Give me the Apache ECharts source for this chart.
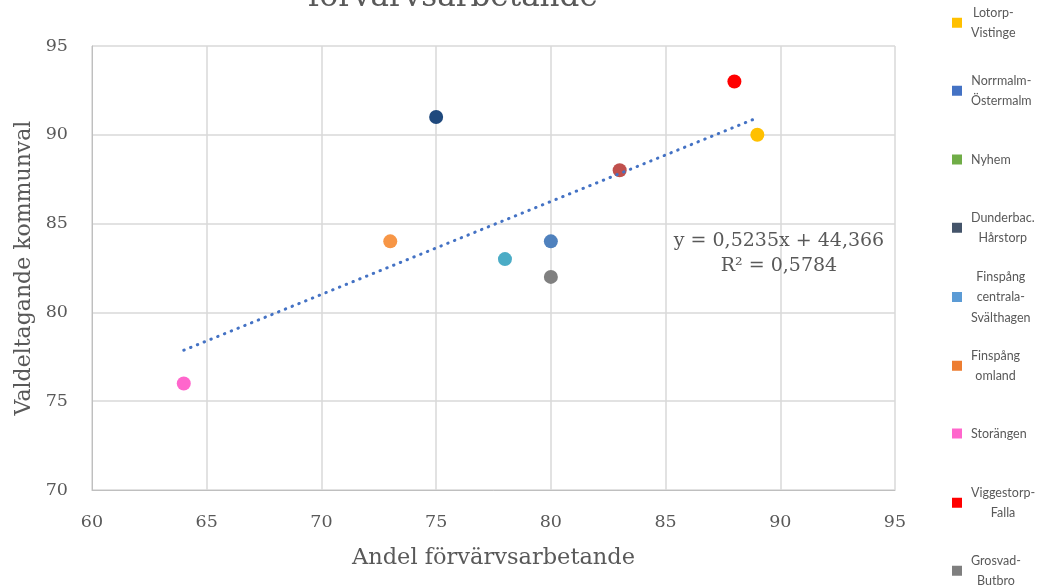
<!DOCTYPE html>
<html><head><meta charset="utf-8">
<script src="https://cdn.jsdelivr.net/npm/echarts@6/dist/echarts.min.js"></script>
<style>html,body{margin:0;padding:0;background:#fff}#c{width:1051px;height:588px}</style>
</head><body><div id="c"></div>
<script>
const seriesNames = ['Lotorp-Vistinge','Norrmalm-Östermalm','Nyhem','Dunderbac. Hårstorp','Finspång centrala-Svälthagen','Finspång omland','Storängen','Viggestorp-Falla','Grosvad-Butbro'];
const legendLines = [['Lotorp-','Vistinge'],['Norrmalm-','Östermalm'],['Nyhem'],['Dunderbac.','Hårstorp'],['Finspång','centrala-','Svälthagen'],['Finspång','omland'],['Storängen'],['Viggestorp-','Falla'],['Grosvad-','Butbro']];
const xValues = [89, 80, 83, 75, 78, 73, 64, 88, 80];
const yValues = [90, 84, 88, 91, 83, 84, 76, 93, 82];
const pointColors = ['#FFC000','#4F81BD','#C0504D','#1F497D','#4BACC6','#F79646','#FF66CC','#FF0000','#808080'];
const legendColors = ['#FFC000','#4472C4','#70AD47','#44546A','#5B9BD5','#ED7D31','#FF66CC','#FF0000','#7F7F7F'];
const trendSlope = 0.5235;
const trendIntercept = 44.366;
const equationText = 'y = 0,5235x + 44,366';
const r2Text = 'R² = 0,5784';
const titleText = 'förvärvsarbetande';
const xAxisName = 'Andel förvärvsarbetande';
const yAxisName = 'Valdeltagande kommunval';

const grey = '#595959';
const serif = '"DejaVu Serif", serif';
const sans = 'Lato, "Noto Sans", sans-serif';
const xMin = Math.min(...xValues), xMax = Math.max(...xValues);

const series = seriesNames.map((n, i) => ({
  name: n, type: 'scatter', symbolSize: 14,
  itemStyle: { color: pointColors[i], opacity: 1 },
  data: [[xValues[i], yValues[i]]], z: 2
}));
series.push({
  name: 'trend', type: 'line', symbol: 'none', z: 5, silent: true,
  lineStyle: { color: '#4472C4', width: 3, type: [0.5, 6.8], cap: 'round' },
  data: [[xMin, trendSlope * xMin + trendIntercept], [xMax, trendSlope * xMax + trendIntercept]]
});

const LH = 20.5, firstCenter = 21, step = 68.6;
const legends = seriesNames.map((n, i) => {
  const lines = legendLines[i];
  return {
    orient: 'vertical', left: 947,
    top: Math.round(firstCenter + i * step - lines.length * LH / 2),
    itemWidth: 10, itemHeight: 10,
    icon: 'rect',
    data: [{ name: n, itemStyle: { color: legendColors[i] } }],
    formatter: () => lines.map(l => '{t|' + l + '}').join('\n'),
    textStyle: { color: grey, fontFamily: sans, fontSize: 12.5, padding: [0, 0, 0, 4],
      rich: { t: { align: 'center', lineHeight: LH, fontSize: 12.5, color: grey, fontFamily: sans } } }
  };
});

const chart = echarts.init(document.getElementById('c'));
chart.setOption({
  animation: false,
  title: { text: titleText, left: 303, top: -23,
    textStyle: { fontFamily: serif, fontSize: 31, color: grey, fontWeight: 'normal' } },
  grid: { left: 92, right: 156, top: 46, bottom: 98 },
  xAxis: {
    type: 'value', min: 60, max: 95, interval: 5,
    name: xAxisName, nameLocation: 'middle', nameGap: 57,
    nameTextStyle: { fontFamily: serif, fontSize: 22.5, color: grey },
    axisLine: { show: true, lineStyle: { color: '#BFBFBF', width: 1 } },
    axisTick: { show: false },
    axisLabel: { fontFamily: serif, fontSize: 17.5, color: grey, margin: 23 },
    splitLine: { show: true, lineStyle: { color: '#D9D9D9', width: 1.5 } }
  },
  yAxis: {
    type: 'value', min: 70, max: 95, interval: 5,
    name: yAxisName, nameLocation: 'middle', nameGap: 57,
    nameTextStyle: { fontFamily: serif, fontSize: 22, color: grey },
    axisLine: { show: true, lineStyle: { color: '#BFBFBF', width: 1 } },
    axisTick: { show: false },
    axisLabel: { fontFamily: serif, fontSize: 17.5, color: grey, margin: 24 },
    splitLine: { show: true, lineStyle: { color: '#D9D9D9', width: 1.5 } }
  },
  legend: legends,
  graphic: [{
    type: 'text', x: 779, y: 229, z: 10,
    style: { text: equationText + '\n' + r2Text, align: 'center', verticalAlign: 'top',
      fill: grey, font: '19px "DejaVu Serif", serif', lineHeight: 25 }
  }],
  series: series
});
</script></body></html>
